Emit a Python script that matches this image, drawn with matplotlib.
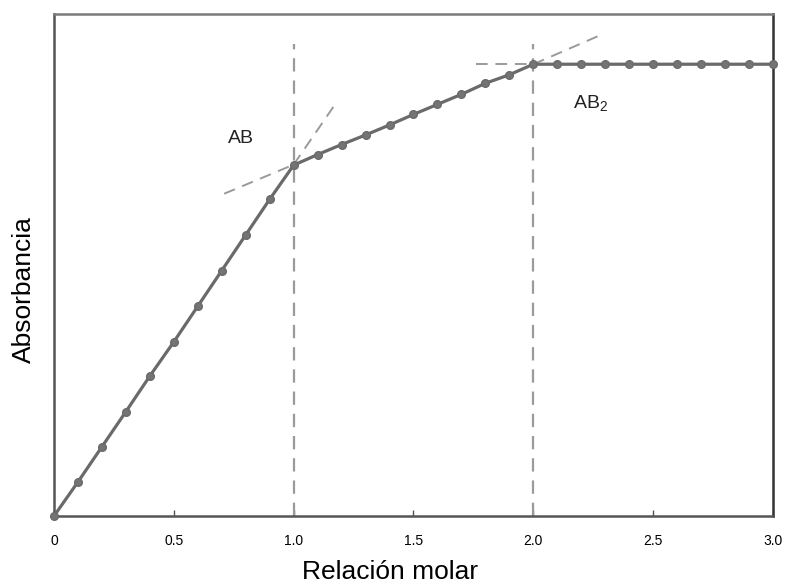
import matplotlib
matplotlib.use("Agg")
import matplotlib.pyplot as plt

plt.rcParams['font.family'] = ['Liberation Sans', 'DejaVu Sans']
plt.rcParams['mathtext.fontset'] = 'custom'
plt.rcParams['mathtext.rm'] = 'Liberation Sans'
plt.rcParams['mathtext.it'] = 'Liberation Sans'
plt.rcParams['mathtext.default'] = 'regular'

# Data
relacion = [0.0, 0.1, 0.2, 0.3, 0.4, 0.5, 0.6, 0.7, 0.8, 0.9, 1.0,
            1.1, 1.2, 1.3, 1.4, 1.5, 1.6, 1.7, 1.8, 1.9, 2.0,
            2.1, 2.2, 2.3, 2.4, 2.5, 2.6, 2.7, 2.8, 2.9, 3.0]
absorbancia = [0.0, 0.068, 0.138, 0.208, 0.279, 0.347, 0.418, 0.489, 0.560, 0.631, 0.699,
               0.720, 0.740, 0.759, 0.779, 0.800, 0.820, 0.840, 0.862, 0.879, 0.900,
               0.900, 0.900, 0.900, 0.900, 0.900, 0.900, 0.900, 0.900, 0.900, 0.900]

# extrapolated tangent lines (x pair, y pair)
tangentes = [([1.0, 1.18], [0.700, 0.825]),
             ([0.71, 1.0], [0.642, 0.700]),
             ([2.0, 2.28], [0.900, 0.958]),
             ([1.76, 2.0], [0.900, 0.900])]
puntos_eq = [1.0, 2.0]
tope_vertical = 0.94

xticks = [0, 0.5, 1.0, 1.5, 2.0, 2.5, 3.0]
xtick_labels = ['0', '0.5', '1.0', '1.5', '2.0', '2.5', '3.0']

fig = plt.figure(figsize=(7.85, 5.84), dpi=100)
ax = fig.add_axes([0.0688, 0.1164, 0.9159, 0.8596])

dash_color = '#9a9a9a'
for xs, ys in tangentes:
    ax.plot(xs, ys, color=dash_color, lw=1.4, dashes=(6, 4))
for xv in puntos_eq:
    ax.plot([xv, xv], [0, tope_vertical], color=dash_color, lw=1.6, dashes=(6, 4))

ax.plot(relacion, absorbancia, color='#6a6a6a', lw=2.3, marker='o', ms=5.5,
        mfc='#747474', mec='#6a6a6a', clip_on=False, zorder=5)

ax.text(0.724, 0.744, 'AB', fontsize=14, color='#222222')
ax.text(2.167, 0.812, 'AB$_2$', fontsize=14, color='#222222')

ax.set_xlim(0, 3.0)
ax.set_ylim(0, 1.0)
ax.set_xticks(xticks)
ax.set_xticklabels(xtick_labels, fontsize=10)
ax.set_yticks([])
ax.tick_params(axis='x', direction='in', length=4, width=1, color='#555555', pad=13)

for side, col in [('left', '#555555'), ('bottom', '#555555'), ('top', '#7a7a7a'), ('right', '#333333')]:
    ax.spines[side].set_color(col)
    ax.spines[side].set_linewidth(1.8)

fig.text(390 / 785, 1 - 572 / 584, 'Relación molar', fontsize=19, ha='center', va='center')
fig.text(24 / 785, 1 - 290 / 584, 'Absorbancia', fontsize=19, ha='center', va='center',
         rotation=90)

fig.savefig('out.png', dpi=100)
